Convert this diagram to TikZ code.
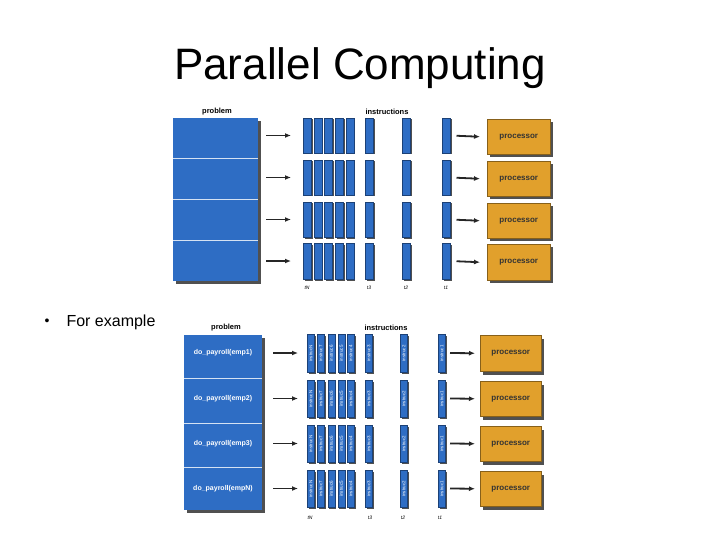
\documentclass[tikz,border=0pt]{standalone}
\usepackage{fontspec}
\setmainfont{Liberation Sans}
\usetikzlibrary{arrows.meta}
\definecolor{blu}{HTML}{2E6DC4}
\definecolor{org}{HTML}{E1A02C}
\definecolor{shd}{HTML}{505050}
\begin{document}
\begin{tikzpicture}[x=1pt,y=-1pt,
  sh/.style={fill=shd,draw=none},
  blk/.style={fill=blu,draw=blu!60!black,line width=0.5pt},
  proc/.style={fill=org,draw=org!60!black,line width=0.5pt,font=\fontsize{8}{9}\selectfont\bfseries,text=black!80},
  arr/.style={-{Latex[length=6pt,width=5pt]},line width=1.8pt,black!85},
  hdr/.style={font=\fontsize{7.5}{8}\selectfont\bfseries},
  tl/.style={font=\fontsize{5}{6}\selectfont\itshape},
  bt/.style={font=\fontsize{4.5}{5}\selectfont,text=white,rotate=90}]
\useasboundingbox (0,0) rectangle (720,540);
\fill[white] (0,0) rectangle (720,540);
\node (title) at (360,68) {\fontsize{44}{48}\selectfont Parallel Computing};
\node (bul) at (47,322) {\fontsize{14}{16}\selectfont •};
\node[anchor=west] (fe) at (63,322) {\fontsize{16}{18}\selectfont For example};
% ---------- top diagram
\node[hdr] (p1) at (217,112) {problem};
\node[hdr] (i1) at (387,112) {instructions};
\fill[sh] (176,121) rectangle (261,284);
\fill[blu] (173,118) rectangle (258,281);
\foreach \y in {158,199,240}{\draw[white!80!blu,line width=0.8pt] (173,\y) -- (258,\y);}
\node[inner sep=0] (pb1) at (215.5,199.5) {};
\foreach \t/\b [count=\r] in {118/153,160/195,202/237,243/279}{
  \coordinate (la\r) at (266,{(\t+\b)/2});
  \coordinate (lb\r) at (291,{(\t+\b)/2});
  \draw[arr] (la\r) -- (lb\r);
  \foreach \x [count=\c] in {303,313.5,324,335,345.5,365,402,442}{
    \fill[sh] (\x+1.5,\t+1.5) rectangle (\x+9.5,\b+1.5);
    \node[blk,minimum width=8pt,minimum height={\b-\t},inner sep=0,anchor=north west] (ta\r\c) at (\x,\t) {};
  }
  \fill[sh] (490,\t+4) rectangle (553,\b+4);
  \node[proc,minimum width=63pt,minimum height={\b-\t},inner sep=0,anchor=north west] (pa\r) at (487,\t+1) {processor};
  \draw[arr] (ta\r8.east) ++(6,0) coordinate (ra\r) -- (pa\r.west -| 480,0);
}
\node[tl] (tN1) at (307,288) {tN};
\node[tl] (t31) at (369,288) {t3};
\node[tl] (t21) at (406,288) {t2};
\node[tl] (t11) at (446,288) {t1};
% ---------- bottom diagram
\node[hdr] (p2) at (226,328) {problem};
\node[hdr] (i2) at (386,328) {instructions};
\fill[sh] (187,338) rectangle (265,513);
\fill[blu] (184,335) rectangle (262,510);
\foreach \y in {378,423,467}{\draw[white!80!blu,line width=0.8pt] (184,\y) -- (262,\y);}
\foreach \t/\b/\e [count=\r] in {334/372/emp1,380/417/emp2,425/462/emp3,470/507/empN}{
  \node[font=\fontsize{7}{8}\selectfont\bfseries,text=white] (dp\r) at (223,{(\t+\b)/2}) {do\_payroll(\e)};
  \coordinate (lc\r) at (273,{(\t+\b)/2});
  \coordinate (ld\r) at (298,{(\t+\b)/2});
  \draw[arr] (lc\r) -- (ld\r);
  \foreach \x/\s [count=\c] in {307/instrucN,317/instruc7,327.5/instruc6,337.5/instruc5,347/instruc4,365/instruc3,400/instruc2,438/instruc1}{
    \fill[sh] (\x+1.5,\t+1.5) rectangle (\x+8.5,\b+1.5);
    \node[blk,minimum width=7pt,minimum height={\b-\t},inner sep=0,anchor=north west] (tb\r\c) at (\x,\t) {};
    \node[bt] (tx\r\c) at (tb\r\c.center) {\s};
  }
  \fill[sh] (483,\t+5) rectangle (544,\b+3);
  \node[proc,minimum width=61pt,minimum height={\b-\t-2},inner sep=0,anchor=north west] (pc\r) at (480,\t+1) {processor};
  \coordinate (rc\r) at (450,{(\t+\b)/2});
  \draw[arr] (rc\r) -- (pc\r.west -| 475,0);
}
\node[tl] (tN2) at (310,518) {tN};
\node[tl] (t32) at (370,518) {t3};
\node[tl] (t22) at (403,518) {t2};
\node[tl] (t12) at (440,518) {t1};
\end{tikzpicture}
\end{document}
